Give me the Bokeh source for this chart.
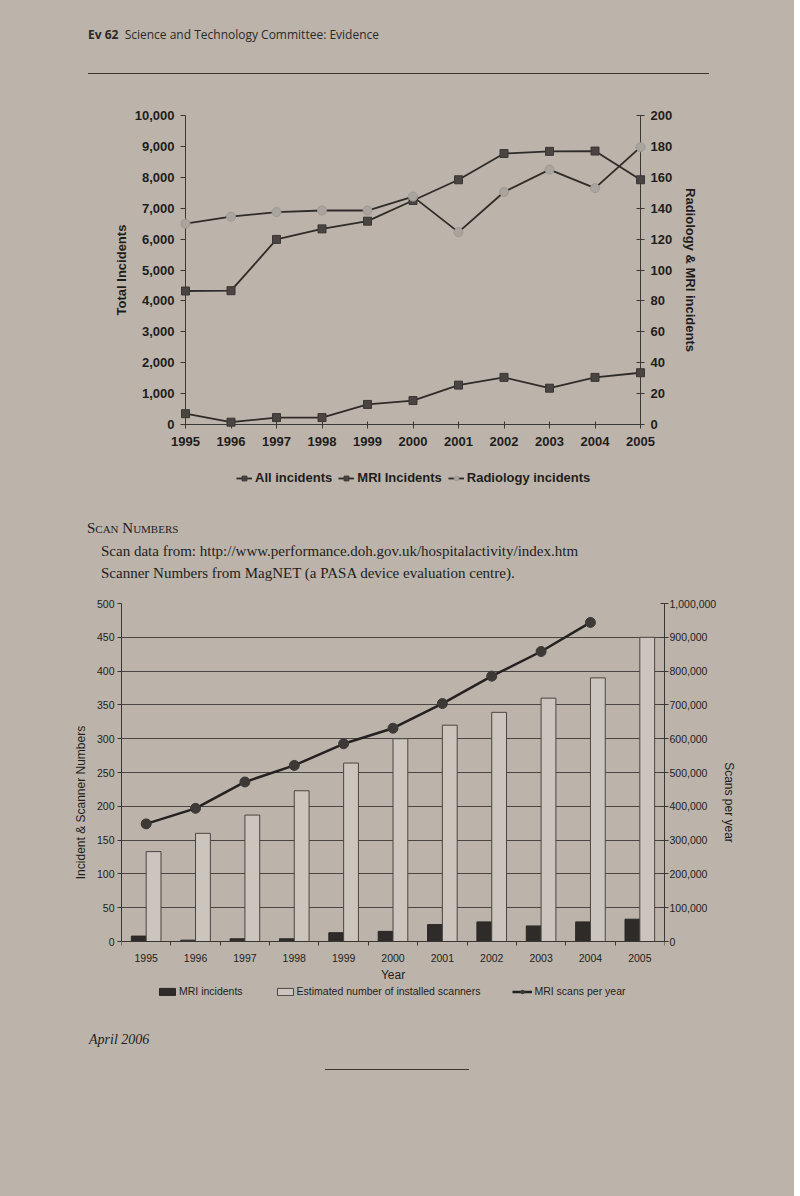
from bokeh.plotting import figure
from bokeh.models import (Range1d, LinearAxis, FixedTicker, NumeralTickFormatter,
                          Legend, LegendItem, Div)
from bokeh.layouts import column
from bokeh.embed import file_html
from bokeh.resources import INLINE

# ---------------- data ----------------
years = [1995, 1996, 1997, 1998, 1999, 2000, 2001, 2002, 2003, 2004, 2005]

# top chart
all_incidents = [4320, 4330, 5990, 6330, 6580, 7250, 7920, 8770, 8840, 8850, 7920]
mri_incidents_top = [7, 1.5, 4.5, 4.5, 13, 15.5, 25.5, 30.5, 23.5, 30.5, 33.5]
radiology_incidents = [130, 134.5, 137.5, 138.5, 138.5, 147.5, 124.5, 150.5, 165, 153, 179.5]

# bottom chart
mri_incidents = [8, 2, 4, 4, 13, 15, 25, 29, 23, 29, 33]
installed_scanners = [133, 160, 187, 223, 264, 300, 320, 339, 360, 390, 450]
scan_years = [1995, 1996, 1997, 1998, 1999, 2000, 2001, 2002, 2003, 2004]
scans_per_year = [348000, 394000, 472000, 521000, 585000, 631000, 704000, 785000, 858000, 944000]

left_ticks_top = list(range(0, 10001, 1000))
right_ticks_top = list(range(0, 201, 20))
left_ticks_bot = list(range(0, 501, 50))
right_ticks_bot = list(range(0, 1000001, 100000))

BG = "#bcb4ab"
INK = "#1f1d1c"
AX = "#3a3634"
SANS = "Liberation Sans"

# ---------------- header ----------------
header = Div(width=784, height=92, styles={"background-color": BG}, text=(
    '<div style="position:relative;width:784px;height:92px;">'
    '<div style="position:absolute;left:83px;top:21px;font-family:\'Open Sans\';font-size:12px;'
    'color:#2b2927;white-space:nowrap;"><b>Ev 62</b>&nbsp;&nbsp;Science and Technology Committee: Evidence</div>'
    '<div style="position:absolute;left:83px;top:68px;width:621px;height:0;border-top:1.5px solid #3a3633;"></div>'
    '</div>'))

# ---------------- top chart ----------------
# frame covers the whole figure; the axes are pinned at the data edges
FW1, FH1 = 784, 402          # frame size (px)
AX_L, AX_R = 185, 640        # x of 1995 / 2005 axes inside the frame
AX_T, AX_B = 13, 322         # y of 10,000 / 0 inside the frame
pxx = (AX_R - AX_L) / (2005 - 1995)
pxy = (AX_B - AX_T) / 10000
x_lo = 1995 - AX_L / pxx
x_hi = 2005 + (FW1 - AX_R) / pxx
y_hi = 10000 + AX_T / pxy
y_lo = -(FH1 - AX_B) / pxy

p1 = figure(frame_width=FW1, frame_height=FH1,
            x_range=Range1d(x_lo, x_hi), y_range=Range1d(y_lo, y_hi),
            output_backend="svg", toolbar_location=None, frame_align=False,
            min_border_left=0, min_border_right=0, min_border_top=0, min_border_bottom=0,
            background_fill_color=BG, border_fill_color=BG, outline_line_color=None)
p1.xgrid.visible = False
p1.ygrid.visible = False
p1.extra_y_ranges = {"r": Range1d(y_lo / 50, y_hi / 50)}

for ax in (p1.xaxis[0], p1.yaxis[0]):
    ax.axis_line_color = AX
    ax.major_tick_line_color = AX
    ax.minor_tick_line_color = None
    ax.major_label_text_font = SANS
    ax.major_label_text_font_style = "bold"
    ax.major_label_text_font_size = "13px"
    ax.major_label_text_color = INK

p1.xaxis.fixed_location = 0
p1.xaxis.bounds = (1995, 2005)
p1.xaxis.ticker = FixedTicker(ticks=years)
p1.xaxis.major_tick_in = 3
p1.xaxis.major_tick_out = 4
p1.xaxis.major_label_standoff = 8

p1.yaxis.fixed_location = 1995
p1.yaxis.bounds = (0, 10000)
p1.yaxis.ticker = FixedTicker(ticks=left_ticks_top)
p1.yaxis.formatter = NumeralTickFormatter(format="0,0")
p1.yaxis.major_tick_in = 0
p1.yaxis.major_tick_out = 5
p1.yaxis.major_label_standoff = 6
p1.yaxis.axis_label = "Total Incidents"
p1.yaxis.axis_label_text_font = SANS
p1.yaxis.axis_label_text_font_style = "bold"
p1.yaxis.axis_label_text_font_size = "13px"
p1.yaxis.axis_label_text_color = INK
p1.yaxis.axis_label_standoff = 3

rax = LinearAxis(y_range_name="r", ticker=FixedTicker(ticks=right_ticks_top),
                 axis_label="Radiology & MRI incidents", bounds=(0, 200), fixed_location=2005)
rax.axis_line_color = AX
rax.major_tick_line_color = AX
rax.minor_tick_line_color = None
rax.major_tick_in = 4
rax.major_tick_out = 4
rax.major_label_standoff = 6
rax.major_label_text_font = SANS
rax.major_label_text_font_style = "bold"
rax.major_label_text_font_size = "13px"
rax.major_label_text_color = INK
rax.axis_label_text_font = SANS
rax.axis_label_text_font_style = "bold"
rax.axis_label_text_font_size = "13px"
rax.axis_label_text_color = INK
rax.axis_label_standoff = 8
p1.add_layout(rax, "right")

LINE = "#2e2b29"
l_all = p1.line(years, all_incidents, line_color=LINE, line_width=1.8, level="overlay")
s_all = p1.scatter(years, all_incidents, marker="square", size=8, fill_color="#4a4542",
                   line_color="#3a3634", level="overlay")
l_mri = p1.line(years, mri_incidents_top, y_range_name="r", line_color=LINE, line_width=1.8, level="overlay")
s_mri = p1.scatter(years, mri_incidents_top, y_range_name="r", marker="square", size=8,
                   fill_color="#4a4542", line_color="#3a3634", level="overlay")
l_rad = p1.line(years, radiology_incidents, y_range_name="r", line_color=LINE, line_width=1.8, level="overlay")
s_rad = p1.scatter(years, radiology_incidents, y_range_name="r", marker="circle", size=9,
                   fill_color="#aaa49e", line_color="#9e9892", level="overlay")

leg1 = Legend(items=[LegendItem(label="All incidents", renderers=[l_all, s_all]),
                     LegendItem(label="MRI Incidents", renderers=[l_mri, s_mri]),
                     LegendItem(label="Radiology incidents", renderers=[l_rad, s_rad])],
              orientation="horizontal", location=(236, 19),
              background_fill_alpha=0, border_line_color=None,
              padding=0, margin=0, spacing=6, glyph_width=16, glyph_height=12, label_standoff=3,
              label_height=12,
              label_text_font=SANS, label_text_font_style="bold",
              label_text_font_size="13px", label_text_color=INK)
p1.add_layout(leg1, "center")

# ---------------- middle text ----------------
mid = Div(width=784, height=78, styles={"background-color": BG}, text=(
    '<div style="position:relative;width:784px;height:78px;">'
    '<div style="position:absolute;left:82px;top:9px;font-family:\'Liberation Serif\';font-size:15px;'
    'font-variant:small-caps;color:#1f1d1c;white-space:nowrap;">Scan Numbers</div>'
    '<div style="position:absolute;left:96px;top:32px;font-family:\'Liberation Serif\';font-size:15px;'
    'color:#1f1d1c;white-space:nowrap;">Scan data from: http://www.performance.doh.gov.uk/hospitalactivity/index.htm</div>'
    '<div style="position:absolute;left:96px;top:54px;font-family:\'Liberation Serif\';font-size:15px;'
    'color:#1f1d1c;white-space:nowrap;">Scanner Numbers from MagNET (a PASA device evaluation centre).</div>'
    '</div>'))

# ---------------- bottom chart ----------------
PLOT_H2, FRAME_H2 = 338, 398
ext2 = (FRAME_H2 - PLOT_H2) / PLOT_H2
p2 = figure(frame_width=543, frame_height=FRAME_H2,
            x_range=Range1d(1994.5, 2005.5), y_range=Range1d(-500 * ext2, 500),
            output_backend="svg", toolbar_location=None, frame_align=False,
            min_border_left=121, min_border_right=120, min_border_top=11, min_border_bottom=10,
            background_fill_color=BG, border_fill_color=BG, outline_line_color=None)
p2.xgrid.visible = False
p2.ygrid.ticker = FixedTicker(ticks=left_ticks_bot)
p2.ygrid.grid_line_color = "#4a4542"
p2.ygrid.grid_line_width = 1
p2.extra_y_ranges = {"s": Range1d(-1000000 * ext2, 1000000)}

for ax in (p2.xaxis[0], p2.yaxis[0]):
    ax.axis_line_color = AX
    ax.major_tick_line_color = AX
    ax.minor_tick_line_color = AX
    ax.major_label_text_font = SANS
    ax.major_label_text_font_size = "10.5px"
    ax.major_label_text_color = INK

p2.xaxis.fixed_location = 0
p2.xaxis.ticker = FixedTicker(ticks=years, minor_ticks=[y - 0.5 for y in years] + [2005.5])
p2.xaxis.major_tick_in = 0
p2.xaxis.major_tick_out = 0
p2.xaxis.minor_tick_in = 0
p2.xaxis.minor_tick_out = 4
p2.xaxis.major_label_standoff = 8
p2.xaxis.axis_label = "Year"
p2.xaxis.axis_label_text_font = SANS
p2.xaxis.axis_label_text_font_style = "normal"
p2.xaxis.axis_label_text_font_size = "12px"
p2.xaxis.axis_label_text_color = INK
p2.xaxis.axis_label_standoff = 3

p2.yaxis.bounds = (0, 500)
p2.yaxis.ticker = FixedTicker(ticks=left_ticks_bot)
p2.yaxis.major_tick_in = 0
p2.yaxis.major_tick_out = 4
p2.yaxis.minor_tick_line_color = None
p2.yaxis.major_label_standoff = 3
p2.yaxis.axis_label = "Incident & Scanner Numbers"
p2.yaxis.axis_label_text_font = SANS
p2.yaxis.axis_label_text_font_style = "normal"
p2.yaxis.axis_label_text_font_size = "12px"
p2.yaxis.axis_label_text_color = INK
p2.yaxis.axis_label_standoff = 6

sax = LinearAxis(y_range_name="s", ticker=FixedTicker(ticks=right_ticks_bot),
                 formatter=NumeralTickFormatter(format="0,0"), axis_label="Scans per year",
                 bounds=(0, 1000000))
sax.axis_line_color = AX
sax.major_tick_line_color = AX
sax.minor_tick_line_color = None
sax.major_tick_in = 4
sax.major_tick_out = 4
sax.major_label_standoff = 1
sax.major_label_text_font = SANS
sax.major_label_text_font_size = "10.5px"
sax.major_label_text_color = INK
sax.axis_label_text_font = SANS
sax.axis_label_text_font_style = "normal"
sax.axis_label_text_font_size = "12px"
sax.axis_label_text_color = INK
sax.axis_label_standoff = 3
p2.add_layout(sax, "right")

mri_x = [y - 0.15 for y in years]
scn_x = [y + 0.15 for y in years]
b_mri = p2.vbar(x=mri_x, top=mri_incidents, width=0.3, fill_color="#2f2b29", line_color="#2a2725")
b_scn = p2.vbar(x=scn_x, top=installed_scanners, width=0.3, fill_color="#cbc5be",
                line_color="#4a4542", line_width=1)
l_scan = p2.line(scan_years, scans_per_year, y_range_name="s", line_color="#242120", line_width=2.5)
c_scan = p2.scatter(scan_years, scans_per_year, y_range_name="s", marker="circle", size=10,
                    fill_color="#3d3937", line_color="#3d3937")

leg2 = Legend(items=[LegendItem(label="MRI incidents", renderers=[b_mri]),
                     LegendItem(label="Estimated number of installed scanners", renderers=[b_scn]),
                     LegendItem(label="MRI scans per year", renderers=[l_scan, c_scan])],
              orientation="horizontal", location=(36, 4),
              background_fill_alpha=0, border_line_color=None,
              padding=0, margin=0, spacing=32, glyph_width=20, glyph_height=9, label_standoff=2,
              label_height=11,
              label_text_font=SANS, label_text_font_size="10.5px", label_text_color=INK)
p2.add_layout(leg2, "center")

# ---------------- footer ----------------
footer = Div(width=784, height=185, styles={"background-color": BG}, text=(
    '<div style="position:relative;width:784px;height:185px;">'
    '<div style="position:absolute;left:84px;top:14px;font-family:\'Liberation Serif\';font-size:14px;'
    'font-style:italic;color:#1f1d1c;white-space:nowrap;">April 2006</div>'
    '<div style="position:absolute;left:320px;top:53px;width:144px;height:0;border-top:1.5px solid #3a3633;"></div>'
    '</div>'))

page = column(header, p1, mid, p2, footer, spacing=0, styles={"background-color": BG})

html = file_html(page, INLINE, "Ev 62")
html = html.replace("<body>", '<body style="background-color:%s;">' % BG, 1)
open("out.html", "w").write(html)
